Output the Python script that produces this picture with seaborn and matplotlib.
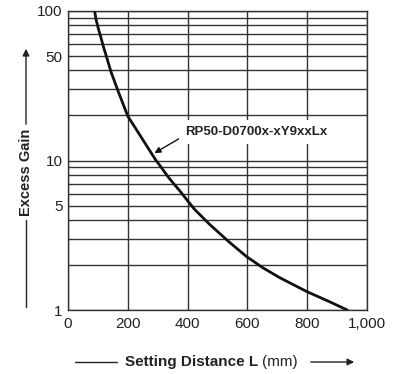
import numpy as np
import seaborn as sns
import matplotlib
matplotlib.use("Agg")
import matplotlib.pyplot as plt
from matplotlib.lines import Line2D

# curve: setting distance (mm) vs excess gain
distance = [89, 94, 101, 109, 119, 130, 144, 169, 200, 247, 293, 311, 335, 357, 373, 398,
            423, 473, 538, 598, 651, 707, 798, 873, 934]
gain = [100, 87.5, 76.9, 67.7, 57.2, 48.5, 39.1, 28.6, 19.8, 14.1, 10.1, 9.05, 7.76, 6.86,
        6.3, 5.44, 4.72, 3.75, 2.86, 2.27, 1.92, 1.65, 1.33, 1.14, 1.0]

x_ticks = [0, 200, 400, 600, 800, 1000]
x_labels = ["0", "200", "400", "600", "800", "1,000"]
y_grid = [1, 2, 3, 4, 5, 6, 7, 8, 9, 10, 20, 30, 40, 50, 60, 70, 80, 90, 100]
y_labeled = [1, 5, 10, 50, 100]
model_name = "RP50-D0700x-xY9xxLx"

sns.set_style("white")
plt.rcParams["font.family"] = ["Liberation Sans", "DejaVu Sans"]

W, H = 398, 374
fig = plt.figure(figsize=(W / 100, H / 100), dpi=100)
ax = fig.add_axes([68 / W, 1 - 310 / H, (367 - 68) / W, (310 - 11) / H])

grid_c = "#333333"
ax.set_yscale("log")
ax.set_xlim(0, 1000)
ax.set_ylim(1, 100)
ax.set_xticks(x_ticks)
ax.set_xticklabels(x_labels, fontsize=11)
ax.set_yticks(y_grid)
ax.set_yticklabels([str(v) if v in y_labeled else "" for v in y_grid], fontsize=11)
ax.yaxis.set_minor_locator(matplotlib.ticker.NullLocator())
ax.tick_params(axis="both", length=0, colors="#222222")
ax.tick_params(axis="y", pad=4)
ax.tick_params(axis="x", pad=5)
ax.grid(True, which="major", color=grid_c, linewidth=1.0)
for s in ax.spines.values():
    s.set_visible(True)
    s.set_color(grid_c)
    s.set_linewidth(1.0)

sns.lineplot(x=distance, y=gain, ax=ax, color="#111111", linewidth=2.0, zorder=5)

ax.annotate(model_name, xy=(289, 11.2), xytext=(392, 15.5), textcoords="data",
            ha="left", va="center", fontsize=9.5, fontweight="bold", color="#222222",
            bbox=dict(boxstyle="square,pad=0.45", fc="white", ec="none"),
            arrowprops=dict(arrowstyle="-|>", color="#111111", lw=1.0,
                            mutation_scale=9, relpos=(0.0, 0.25), shrinkA=0, shrinkB=0),
            zorder=6)

# y axis label with line and arrow
fig.text(26 / W, 1 - 172 / H, "Excess Gain", rotation=90, ha="center", va="center",
         fontsize=10.5, fontweight="bold", color="#222222")
fig.add_artist(Line2D([26 / W, 26 / W], [1 - 220 / H, 1 - 307 / H], color="#222222", lw=1))
fig.add_artist(matplotlib.patches.FancyArrowPatch((26 / W, 1 - 127 / H), (26 / W, 1 - 46 / H),
               transform=fig.transFigure, arrowstyle="-|>", mutation_scale=10,
               color="#222222", lw=1))

# x axis label with line and arrow
yl = 1 - 362 / H
fig.text(258 / W, yl, "Setting Distance L", ha="right", va="center",
         fontsize=11, fontweight="bold", color="#222222")
fig.text(262 / W, yl, "(mm)", ha="left", va="center", fontsize=11, color="#222222")
fig.add_artist(Line2D([75 / W, 117 / W], [yl, yl], color="#222222", lw=1))
fig.add_artist(matplotlib.patches.FancyArrowPatch((308 / W, yl), (357 / W, yl),
               transform=fig.transFigure, arrowstyle="-|>", mutation_scale=10,
               color="#222222", lw=1))

fig.savefig("out.png", dpi=100)
